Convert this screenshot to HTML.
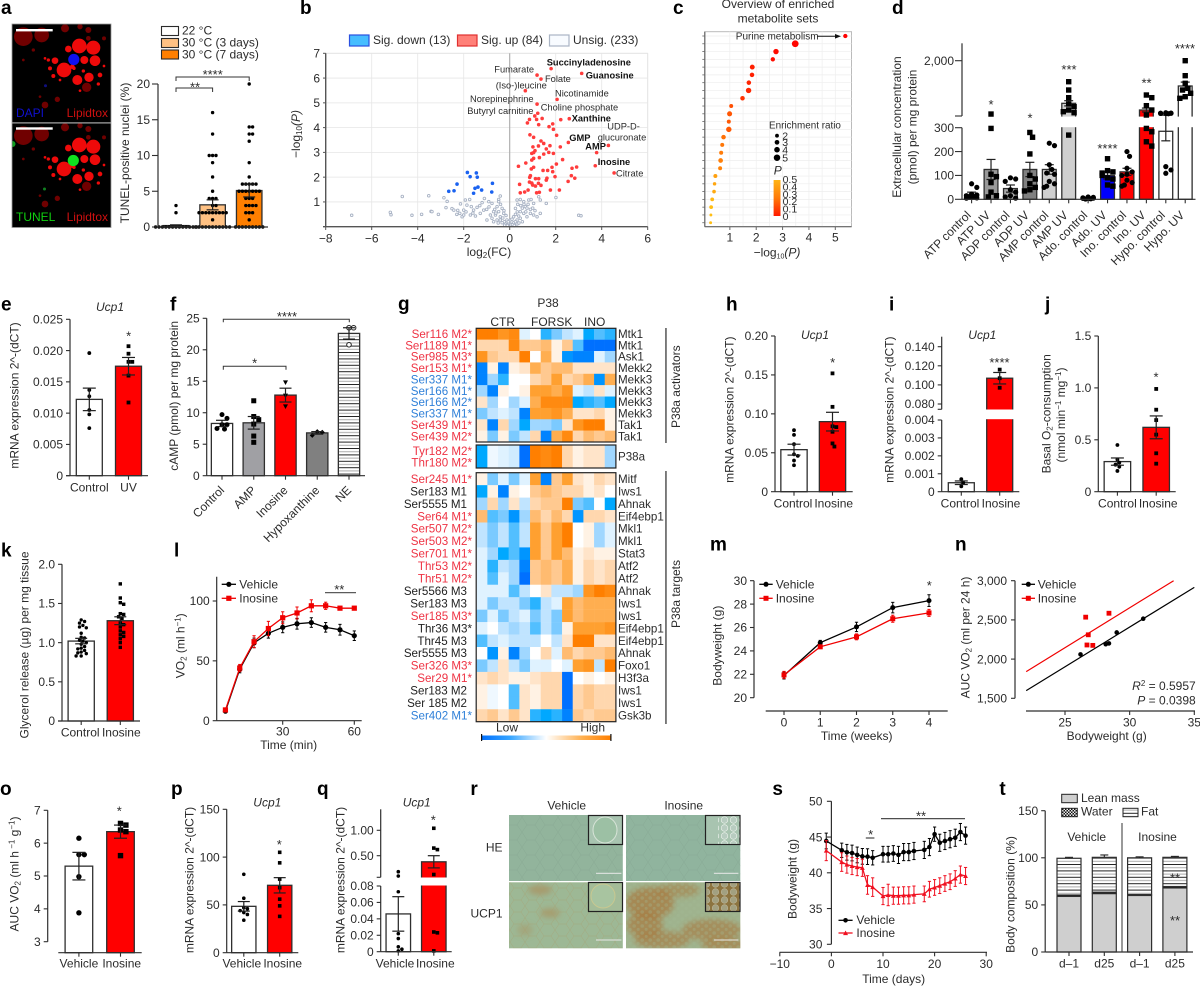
<!DOCTYPE html>
<html lang="en">
<head>
<meta charset="utf-8">
<title>Inosine figure</title>
<style>
html,body{margin:0;padding:0;background:#fff;width:1200px;height:987px;overflow:hidden}
svg{display:block}
text{font-family:"Liberation Sans",sans-serif;font-size:12px;fill:#2b2b2b}
.m{text-anchor:middle}
.e{text-anchor:end}
.lt{font-size:19px;font-weight:700;fill:#000}
.sm{font-size:9.3px}
.bd{font-size:9.3px;font-weight:700;fill:#111}
.it{font-style:italic}
.st{font-size:13px;text-anchor:middle}
</style>
</head>
<body>
<svg id="figure" xmlns="http://www.w3.org/2000/svg" width="1200" height="987" viewBox="0 0 1200 987">
<defs>
<pattern id="stripes" width="6.4" height="6.4" patternUnits="userSpaceOnUse"><rect width="6.4" height="6.4" fill="#fff"/><rect y="0" width="6.4" height="1" fill="#222"/><rect y="3.2" width="6.4" height="1" fill="#aaa"/></pattern>
<pattern id="checker" width="3" height="3" patternUnits="userSpaceOnUse"><rect width="3" height="3" fill="#111"/><rect width="1.5" height="1.5" fill="#eee"/><rect x="1.5" y="1.5" width="1.5" height="1.5" fill="#eee"/></pattern>
<pattern id="cellsPale" width="18" height="15" patternUnits="userSpaceOnUse"><path d="M0 7 L5 0 L13 0 L18 7 L13 15 L5 15 Z" fill="none" stroke="#7f9c88" stroke-width=".4" opacity=".6"/></pattern>
<pattern id="cellsBrown" width="15" height="12" patternUnits="userSpaceOnUse"><path d="M0 6 L4 0 L11 0 L15 6 L11 12 L4 12 Z" fill="none" stroke="#a89a6a" stroke-width=".5" opacity=".55"/></pattern>
<pattern id="cellHoles" width="8" height="7" patternUnits="userSpaceOnUse"><circle cx="2.2" cy="2" r="1.8" fill="#a3bb95"/><circle cx="6.2" cy="5.4" r="1.5" fill="#a3bb95"/></pattern>
<pattern id="insetCells" width="9" height="8" patternUnits="userSpaceOnUse"><circle cx="4.5" cy="4" r="3.3" fill="#b8ccc0" stroke="#eef4ee" stroke-width=".6"/></pattern>
<linearGradient id="pGradient" x1="0" y1="0" x2="0" y2="1"><stop offset="0" stop-color="#ffb414"/><stop offset=".5" stop-color="#ff7a08"/><stop offset="1" stop-color="#ff1a00"/></linearGradient>
<linearGradient id="heatGradient" x1="0" y1="0" x2="1" y2="0"><stop offset="0" stop-color="#0070ff"/><stop offset=".22" stop-color="#37a5ff"/><stop offset=".5" stop-color="#ffffff"/><stop offset=".78" stop-color="#ffb050"/><stop offset="1" stop-color="#ff7f00"/></linearGradient>
<clipPath id="clipTop"><rect x="12.5" y="24.5" width="98" height="98"/></clipPath>
<clipPath id="clipBottom"><rect x="12.5" y="123.5" width="98" height="103.5"/></clipPath>
<clipPath id="clipUcpVehicle"><rect x="509" y="882.3" width="113.8" height="66"/></clipPath>
<clipPath id="clipUcpInosine"><rect x="626" y="882.3" width="114.3" height="66"/></clipPath>
<filter id="soft" x="-30%" y="-30%" width="160%" height="160%"><feGaussianBlur stdDeviation="3"/></filter>
</defs>

<g id="panel-a">
<text class="lt" x="1" y="14">a</text>
<rect x="12" y="24" width="99" height="203.5" fill="#000" stroke="#999" stroke-width=".8"/>
<g id="micro-top" clip-path="url(#clipTop)"></g>
<g id="micro-bottom" clip-path="url(#clipBottom)"></g>
<rect x="12" y="122.3" width="99" height="1.2" fill="#aaa"/>
<rect x="16" y="29" width="36.7" height="2.4" fill="#fff"/>
<rect x="16" y="127.3" width="36.7" height="2.4" fill="#fff"/>
<text x="16" y="117" style="fill:#1010d0">DAPI</text>
<text x="108" y="117" class="e" style="fill:#d01010">Lipidtox</text>
<text x="16" y="221" style="fill:#10d010">TUNEL</text>
<text x="108" y="221" class="e" style="fill:#d01010">Lipidtox</text>
<rect x="161.5" y="26.5" width="17" height="9" fill="#fff" stroke="#2b2b2b" stroke-width="1.1"/>
<rect x="161.5" y="38.5" width="17" height="9" fill="#ffc183" stroke="#2b2b2b" stroke-width="1.1"/>
<rect x="161.5" y="50" width="17" height="9" fill="#ff7f00" stroke="#2b2b2b" stroke-width="1.1"/>
<text x="182" y="34.5">22 °C</text>
<text x="182" y="46.5">30 °C (3 days)</text>
<text x="182" y="58.5">30 °C (7 days)</text>
<text x="129" y="153" class="m" transform="rotate(-90 129 153)">TUNEL-positive nuclei (%)</text>
<text x="195" y="91.5" class="st">**</text>
<text x="212.7" y="79" class="st">****</text>
</g>

<g id="panel-b">
<text class="lt" x="300" y="14">b</text>
<rect x="349.5" y="35" width="19.5" height="11" fill="#46bdff" stroke="#2a50e0" stroke-width="1.2"/>
<rect x="457.5" y="35" width="19.5" height="11" fill="#ff8078" stroke="#e03030" stroke-width="1.2"/>
<rect x="549.5" y="35" width="19.5" height="11" fill="#f8fbff" stroke="#aab4c4" stroke-width="1.2"/>
<text x="373" y="44">Sig. down (13)</text>
<text x="481" y="44">Sig. up (84)</text>
<text x="573" y="44">Unsig. (233)</text>
<text x="300" y="134" class="m" transform="rotate(-90 300 134)">−log<tspan dy="2" font-size="8">10</tspan><tspan dy="-2" class="it">(P)</tspan></text>
<text x="489" y="256" class="m">log<tspan dy="2" font-size="8">2</tspan><tspan dy="-2">(FC)</tspan></text>
</g>

<g id="panel-c">
<text class="lt" x="673" y="14">c</text>
<text x="778" y="8" class="m">Overview of enriched</text>
<text x="778" y="22.7" class="m">metabolite sets</text>
<text x="769" y="128.3" style="font-size:9.9px">Enrichment ratio</text>
<text x="777.8" y="174.7" class="m it">P</text>
<text x="777" y="256.7" class="m">−log<tspan dy="2" font-size="7">10</tspan><tspan dy="-2" class="it">(P)</tspan></text>
</g>

<g id="panel-d">
<text class="lt" x="892" y="14">d</text>
<text x="901" y="127" class="m" transform="rotate(-90 901 127)">Extracellular concentration</text>
<text x="916.5" y="127" class="m" transform="rotate(-90 916.5 127)">(pmol) per mg protein</text>
<text x="991" y="109" class="st">*</text>
<text x="1030" y="122.5" class="st">*</text>
<text x="1069" y="74" class="st">***</text>
<text x="1107.5" y="153" class="st">****</text>
<text x="1146.5" y="87.5" class="st">**</text>
<text x="1185" y="53" class="st">****</text>
</g>

<g id="panel-e">
<text class="lt" x="1" y="310.7">e</text>
<text x="110" y="311" class="m it">Ucp1</text>
<text x="18.3" y="395.5" class="m" transform="rotate(-90 18.3 395.5)">mRNA expression 2^-(dCT)</text>
<text x="128.7" y="340.5" class="st">*</text>
</g>

<g id="panel-f">
<text class="lt" x="170" y="310.7">f</text>
<text x="178" y="395.8" class="m" transform="rotate(-90 178 395.8)">cAMP (pmol) per mg protein</text>
<text x="287" y="321" class="st">****</text>
<text x="254.7" y="367.5" class="st">*</text>
</g>

<g id="panel-g">
<text class="lt" x="398" y="310">g</text>
<text x="548" y="307" class="m">P38</text>
<text x="502.7" y="326" class="m">CTR</text>
<text x="551.7" y="326" class="m">FORSK</text>
<text x="594.7" y="326" class="m">INO</text>
<text x="680" y="386.7" class="m" transform="rotate(-90 680 386.7)">P38a activators</text>
<text x="680" y="594" class="m" transform="rotate(-90 680 594)">P38a targets</text>
<rect x="665.2" y="328" width="1.5" height="115" fill="#555"/>
<rect x="665.2" y="471" width="1.5" height="253" fill="#555"/>
<text x="507" y="731.7" class="m">Low</text>
<text x="592.7" y="731.7" class="m">High</text>
<rect x="481.7" y="735.5" width="129" height="4.5" fill="url(#heatGradient)"/>
<rect x="481" y="734" width="1.2" height="7" fill="#111"/>
<rect x="610.3" y="734" width="1.2" height="7" fill="#111"/>
</g>

<g id="panel-h">
<text class="lt" x="726" y="310.7">h</text>
<text x="815" y="339" class="m it">Ucp1</text>
<text x="733.3" y="409.7" class="m" transform="rotate(-90 733.3 409.7)">mRNA expression 2^-(dCT)</text>
<text x="832.7" y="367" class="st">*</text>
</g>

<g id="panel-i">
<text class="lt" x="889" y="310.7">i</text>
<text x="982.3" y="339" class="m it">Ucp1</text>
<text x="893.3" y="409.7" class="m" transform="rotate(-90 893.3 409.7)">mRNA expression 2^-(dCT)</text>
<text x="999.5" y="367" class="st">****</text>
</g>

<g id="panel-j">
<text class="lt" x="1045" y="310.7">j</text>
<text x="1050.7" y="413.8" class="m" transform="rotate(-90 1050.7 413.8)">Basal O<tspan dy="2" font-size="8">2</tspan><tspan dy="-2">-consumption</tspan></text>
<text x="1065" y="415" class="m" transform="rotate(-90 1065 415)">(nmol min<tspan dy="-4" font-size="8">−1</tspan><tspan dy="4"> mg</tspan><tspan dy="-4" font-size="8">−1</tspan><tspan dy="4">)</tspan></text>
<text x="1156" y="381.5" class="st">*</text>
</g>

<g id="panel-k">
<text class="lt" x="1" y="556.7">k</text>
<text x="28.3" y="645" class="m" transform="rotate(-90 28.3 645)">Glycerol release (µg) per mg tissue</text>
</g>

<g id="panel-l">
<text class="lt" x="174" y="556.7">l</text>
<text x="184.3" y="645.8" class="m" transform="rotate(-90 184.3 645.8)">VO<tspan dy="2" font-size="8">2</tspan><tspan dy="-2"> (ml h</tspan><tspan dy="-4" font-size="8">−1</tspan><tspan dy="4">)</tspan></text>
<text x="288.7" y="749" class="m">Time (min)</text>
<text x="239.3" y="588.3">Vehicle</text>
<text x="239.3" y="602.3">Inosine</text>
<rect x="325" y="592.2" width="31" height="1" fill="#333"/>
<text x="339.3" y="594" class="st">**</text>
</g>

<g id="panel-m">
<text class="lt" x="710" y="550.7">m</text>
<text x="721.7" y="645.7" class="m" transform="rotate(-90 721.7 645.7)">Bodyweight (g)</text>
<text x="856.7" y="740" class="m">Time (weeks)</text>
<text x="775.7" y="588.3">Vehicle</text>
<text x="775.7" y="602.3">Inosine</text>
<text x="929.3" y="590" class="st">*</text>
</g>

<g id="panel-n">
<text class="lt" x="955" y="550.7">n</text>
<text x="969.3" y="637.5" class="m" transform="rotate(-90 969.3 637.5)">AUC VO<tspan dy="2" font-size="8">2</tspan><tspan dy="-2"> (ml per 24 h)</tspan></text>
<text x="1106.7" y="740" class="m">Bodyweight (g)</text>
<text x="1037.7" y="588.3">Vehicle</text>
<text x="1037.7" y="602.3">Inosine</text>
<text x="1195.7" y="690" class="e"><tspan class="it">R</tspan><tspan dy="-4" font-size="8">2</tspan><tspan dy="4"> = 0.5957</tspan></text>
<text x="1195.7" y="704.3" class="e"><tspan class="it">P</tspan> = 0.0398</text>
</g>

<g id="panel-o">
<text class="lt" x="0" y="795">o</text>
<text x="18.3" y="874" class="m" transform="rotate(-90 18.3 874)">AUC VO<tspan dy="2" font-size="8">2</tspan><tspan dy="-2"> (ml h</tspan><tspan dy="-4" font-size="8"> −1</tspan><tspan dy="4"> g</tspan><tspan dy="-4" font-size="8">−1</tspan><tspan dy="4">)</tspan></text>
<text x="119.3" y="815.5" class="st">*</text>
</g>

<g id="panel-p">
<text class="lt" x="171" y="795">p</text>
<text x="267.3" y="806.7" class="m it">Ucp1</text>
<text x="193.3" y="880" class="m" transform="rotate(-90 193.3 880)">mRNA expression 2^-(dCT)</text>
<text x="279.3" y="849" class="st">*</text>
</g>

<g id="panel-q">
<text class="lt" x="317" y="795">q</text>
<text x="416.7" y="806.7" class="m it">Ucp1</text>
<text x="344.3" y="880" class="m" transform="rotate(-90 344.3 880)">mRNA expression 2^-(dCT)</text>
<text x="433.3" y="824.5" class="st">*</text>
</g>

<g id="panel-r">
<text class="lt" x="470.4" y="795">r</text>
<text x="566.7" y="809.3" class="m">Vehicle</text>
<text x="683.7" y="809.3" class="m">Inosine</text>
<text x="502.5" y="851.7" class="e">HE</text>
<text x="502.5" y="917.7" class="e">UCP1</text>
<rect x="509" y="815" width="113.8" height="66" fill="#92b49c"/>
<rect x="509" y="815" width="113.8" height="66" fill="url(#cellsPale)"/>
<rect x="626" y="815" width="114.3" height="66" fill="#90b49e"/>
<rect x="626" y="815" width="114.3" height="66" fill="url(#cellsPale)"/>
<rect x="509" y="882.3" width="113.8" height="66" fill="#9db895"/>
<rect x="626" y="882.3" width="114.3" height="66" fill="#9fb38e"/>
<g clip-path="url(#clipUcpVehicle)">
<g filter="url(#soft)">
<ellipse cx="540" cy="890" rx="12" ry="5" fill="#b08048" opacity=".5"/>
<ellipse cx="550" cy="913" rx="10" ry="5" fill="#b08048" opacity=".45"/>
<ellipse cx="525" cy="930" rx="8" ry="6" fill="#b08048" opacity=".3"/>
</g>
<rect x="509" y="882.3" width="113.8" height="66" fill="url(#cellsBrown)"/>
</g>
<g clip-path="url(#clipUcpInosine)">
<g filter="url(#soft)">
<ellipse cx="650" cy="903" rx="24" ry="16" fill="#a8763a" opacity=".7"/>
<ellipse cx="645" cy="925" rx="18" ry="13" fill="#a8763a" opacity=".65"/>
<ellipse cx="662" cy="940" rx="28" ry="9" fill="#a8763a" opacity=".6"/>
<ellipse cx="712" cy="930" rx="30" ry="11" fill="#a8763a" opacity=".6"/>
<ellipse cx="725" cy="945" rx="24" ry="7" fill="#a8763a" opacity=".6"/>
<ellipse cx="678" cy="890" rx="22" ry="7" fill="#a8763a" opacity=".5"/>
</g>
<rect x="626" y="882.3" width="114.3" height="66" fill="url(#cellHoles)" opacity=".3"/>
</g>
<rect x="588.5" y="815.5" width="34" height="29" fill="#a8c4b0" stroke="#222" stroke-width="1.2"/>
<ellipse cx="605" cy="830" rx="12" ry="13" fill="#9cc0a4" stroke="#d8e4d8" stroke-width="1"/>
<rect x="705.5" y="815.5" width="34.5" height="29" fill="#a8c4b0" stroke="#222" stroke-width="1.2"/>
<rect x="718" y="816.2" width="21.4" height="27.6" fill="url(#insetCells)"/>
<rect x="588.5" y="882.5" width="34" height="29" fill="#a4bc98" stroke="#222" stroke-width="1.2"/>
<ellipse cx="603" cy="896" rx="12" ry="12" fill="#a8c4a0" stroke="#c8c890" stroke-width="1"/>
<rect x="705.5" y="882.5" width="34.5" height="29" fill="#8c7440" stroke="#222" stroke-width="1.2"/>
<rect x="706.2" y="883.2" width="33.2" height="27.6" fill="url(#insetCells)" opacity=".5"/>
<rect x="596" y="872.8" width="25.4" height="1" fill="#e8e8e8"/>
<rect x="713.9" y="872.8" width="24.5" height="1" fill="#e8e8e8"/>
<rect x="596" y="939.5" width="25.4" height="1" fill="#e8e8e8"/>
<rect x="713.9" y="939.5" width="24.5" height="1" fill="#e8e8e8"/>
</g>

<g id="panel-s">
<text class="lt" x="772.4" y="795">s</text>
<text x="796.5" y="879" class="m" transform="rotate(-90 796.5 879)">Bodyweight (g)</text>
<text x="893.7" y="983" class="m">Time (days)</text>
<text x="856.4" y="924">Vehicle</text>
<text x="856.4" y="937">Inosine</text>
<rect x="865.8" y="837.5" width="8.6" height="1" fill="#222"/>
<rect x="881" y="818.2" width="84" height="1" fill="#222"/>
<text x="870.6" y="839" class="st">*</text>
<text x="921" y="820.5" class="st">**</text>
</g>

<g id="panel-t">
<text class="lt" x="999.4" y="795">t</text>
<text x="1014.5" y="894.5" class="m" transform="rotate(-90 1014.5 894.5)">Body composition (%)</text>
<rect x="1061.7" y="794.3" width="15.6" height="8.4" fill="#cfcfcf" stroke="#222"/>
<rect x="1061.7" y="808.3" width="15.6" height="8.4" fill="url(#checker)" stroke="#222"/>
<rect x="1123" y="808.3" width="15" height="8.4" fill="url(#stripes)" stroke="#222"/>
<text x="1081" y="802">Lean mass</text>
<text x="1081" y="815.7">Water</text>
<text x="1141" y="815.7">Fat</text>
<rect x="1121.5" y="823" width="1" height="129" fill="#333"/>
<text x="1086.7" y="841" class="m">Vehicle</text>
<text x="1157.5" y="841" class="m">Inosine</text>
</g>
</svg>

<script>
/* ---------- panel a data ---------- */
const aMeans = [0.2, 3.1, 5.1];
const aErrors = [0.1, 0.7, 0.9];
const aFills = ['#ffffff', '#ffc183', '#ff7f00'];
const aTicks = [0, 5, 10, 15, 20];
const aPoints22 = [3, 2, 0, 0, 0, 0, 0, 0, 0, 0, 0, 0, 0, 0, 0];
const aPoints3d = [16, 13, 10, 10, 10, 9, 7, 5, 4, 4, 4, 3, 3, 2, 2, 2, 2, 2, 2, 2, 2, 2, 1, 0, 0, 0, 0, 0, 0, 0, 0, 0, 0, 0];
const aPoints7d = [20, 14, 14, 13, 13, 12, 9, 7, 6, 6, 6, 6, 6, 5, 5, 5, 5, 5, 5, 5, 4, 4, 4, 3, 3, 3, 3, 2, 2, 2, 1, 0, 0, 0, 0, 0, 0, 0, 0, 0];

/* ---------- panel b data: [log2FC, -log10P] ---------- */
const bTicksX = [-8, -6, -4, -2, 0, 2, 4, 6];
const bTicksY = [1, 2, 3, 4, 5, 6, 7];
const bSigUp = [[1.8,6.38],[3.13,6.19],[1.19,6.12],[1.36,5.96],[0.68,5.49],[2.06,5.14],[1.19,4.95],[1.22,4.58],[1.09,4.47],[0.86,4.33],[1.17,4.33],[1.41,4.37],[2.22,4.32],[2.59,4.36],[0.77,4.19],[1.26,4.12],[1.87,4.15],[1.71,4.04],[1.9,3.93],[2.04,3.69],[0.88,3.71],[1.04,3.61],[1.36,3.46],[1.48,3.36],[1.75,3.27],[1.25,3.26],[1.01,3.22],[1.59,3.14],[2.2,3.22],[2.55,3.4],[4.29,3.28],[3.78,2.99],[1.7,3.0],[1.9,2.96],[1.48,2.93],[1.1,3.07],[1.04,2.99],[0.96,2.96],[1.29,2.79],[1.04,2.76],[0.96,2.69],[2.3,2.71],[0.7,2.57],[0.38,2.44],[2.03,2.53],[3.72,2.46],[1.04,2.4],[0.94,2.33],[1.84,2.4],[1.45,2.27],[1.65,2.27],[1.87,2.22],[2.71,2.36],[2.91,2.41],[4.54,2.17],[2.68,2.06],[2.83,1.96],[1.97,2.02],[0.9,2.06],[0.87,1.99],[1.12,1.94],[1.26,1.94],[1.62,1.96],[1.59,1.88],[2.54,1.83],[0.86,1.8],[0.96,1.76],[1.25,1.75],[1.36,1.67],[0.43,1.71],[1.0,1.68],[1.12,1.64],[0.8,1.48],[0.65,1.4],[0.46,1.37],[1.17,1.37],[1.29,1.39],[1.77,1.48],[2.16,1.48]];
const bSigDown = [[-1.84,2.19],[-1.45,2.17],[-1.72,2.02],[-1.41,2.0],[-2.29,1.72],[-0.75,1.75],[-1.38,1.6],[-1.51,1.55],[-1.22,1.48],[-2.65,1.43],[-2.42,1.45],[-0.78,1.4],[-1.57,1.35]];
const bUnsig = [[-6.87,.46],[-5.19,.58],[-5.16,.48],[-4.25,.46],[-3.83,.5],[-3.42,.62],[-3.38,.61],[-3.1,.5],[-4.67,1.22],[-3.52,1.25],[-2.86,1.17],[-2.72,1.02],[-2.77,.77],[-2.51,.73],[-2.43,.67],[-2.26,.66],[-2.17,.54],[-2.07,.4],[-2,.67],[-2,.47],[-2.14,.92],[-1.93,1.08],[-1.74,1.1],[-1.67,.81],[-1.86,.87],[-1.57,.67],[-1.42,.78],[-1.2,.97],[-1.1,1.14],[-.91,1.01],[-.77,.94],[-1.13,.67],[-1.28,.54],[-1.49,.43],[-1.71,.47],[-.48,1.1],[-.41,1.24],[-.48,1.01],[-.55,.81],[-.7,.61],[-.84,.47],[-.99,.27],[-.77,.34],[-.62,.47],[-.48,.61],[-.33,.74],[-.26,.54],[-.41,.4],[-.55,.27],[-.7,.2],[-.23,.2],[-.12,.27],[-.04,.13],[.03,.11],[.17,.16],[.32,.27],[.39,.43],[.46,.61],[.25,.74],[.32,1.08],[.46,1.1],[.61,1.01],[.68,.81],[.83,1.08],[.93,1.1],[1.04,.94],[1.26,1.21],[1.33,1.08],[1.59,.94],[2.01,1.18],[3,.46],[3.1,.44],[.61,.54],[.75,.4],[.9,.54],[1.04,.47],[1.19,.4],[1.33,.54],[.46,.34],[.17,.4],[.32,.11],[.03,.27],[-.19,.11],[-.33,.16],[-.41,.27],[-.1,.05],[.05,.07],[.12,.08],[-.22,.06],[.2,.05],[-.06,.2],[.1,.3],[.25,.5],[.33,.6],[-.16,.45],[-.3,.35],[-.25,.65],[-.65,.7],[-.6,.55],[.55,.75],[.62,.9],[.75,.75],[.8,.9],[1,.75],[1.1,.65],[.9,.7],[.7,.6],[-1,.7],[-.9,.8],[-1.3,.85],[-1.6,.55],[-1.9,.6],[-2.3,.5],[-.5,.15],[.4,.15],[.55,.2],[.25,.2],[-.4,.9],[.48,.85],[.35,.9]];
const bCallouts = [['Succinyladenosine',1],['Fumarate',0],['Folate',0],['Guanosine',1],['(Iso-)leucine',0],['Nicotinamide',0],['Norepinephrine',0],['Choline phosphate',0],['Butyryl carnitine',0],['Xanthine',1],['UDP-D-',0],['glucuronate',0],['GMP',1],['AMP',1],['Inosine',1],['Citrate',0]];

/* ---------- panel c data ---------- */
const cMinusLogP = [5.38,3.48,2.75,2.63,1.85,1.84,1.72,1.71,1.48,1.05,.99,.96,.96,.76,.71,.67,.65,.63,.45,.42,.4,.33,.29,.28,.27];
const cEnrichment = [2.6,5.3,3.8,2.6,3.2,2.8,2.8,3.8,2.8,2.2,3.4,2.2,3.8,2.8,2.2,2.2,3,2.2,2.2,1.6,1.8,2,2,1,1];
const cTicks = [1, 2, 3, 4, 5];
const cSizeLegend = [2, 3, 4, 5];
const cPLegend = ['0.5', '0.4', '0.3', '0.2', '0.1', '0'];

/* ---------- panel d data ---------- */
const dLabels = ['ATP control','ATP UV','ADP control','ADP UV','AMP control','AMP UV','Ado. control','Ado. UV','Ino. control','Ino. UV','Hypo. control','Hypo. UV'];
const dMeans = [20, 125, 45, 125, 125, 690, 3, 100, 115, 484, 285, 1222];
const dErrors = [10, 42, 15, 30, 20, 80, 1, 15, 15, 60, 40, 120];
const dFills = ['#d9d9d9','#999999','#aaaaaa','#808080','#cfcfcf','#cfcfcf','#0000ff','#0000ff','#ff0000','#ff0000','#ffffff','#ffffff'];
const dPoints = [
 [65,50,22,18,15,12,10,8,6,5],
 [360,297,105,95,70,30,15,10],
 [90,85,75,40,30,15,10,5],
 [280,260,190,100,85,65,50,40,35],
 [235,225,145,125,110,105,75,65,55,50],
 [1354,1099,863,669,586,484,432,401,269],
 [10,8,6,5,4,3,2,1],
 [170,120,115,110,100,90,85,60,55],
 [200,180,130,115,105,100,80,70,60,55],
 [945,863,617,484,330,297,241,223,283],
 [400,390,385,383,380,375,370,137,123,109],
 [2000,1539,1305,1151,1099,998,893,844]
];
const dTicksLow = [0, 100, 200, 300];

/* ---------- panel e data ---------- */
const eLabels = ['Control', 'UV'];
const eMeans = [0.0122, 0.0175];
const eErrors = [0.0018, 0.0014];
const eControlPoints = [0.0196, 0.0137, 0.0127, 0.0105, 0.0098, 0.0076];
const eUvPoints = [0.0207, 0.0195, 0.0182, 0.0182, 0.016, 0.0117];
const eTicks = [0, 0.005, 0.01, 0.015, 0.02, 0.025];
const eTickLabels = ['0', '0.005', '0.010', '0.015', '0.020', '0.025'];

/* ---------- panel f data ---------- */
const fLabels = ['Control', 'AMP', 'Inosine', 'Hypoxanthine', 'NE'];
const fMeans = [8.3, 8.4, 12.8, 6.8, 22.6];
const fErrors = [0.5, 1, 1.1, 0.2, 0.9];
const fFills = ['#ffffff', '#a0a0a4', '#ff0000', '#808080', 'url(#stripes)'];
const fPoints = [[9.7,9.1,8.1,8.1,7.4,7.5],[11.9,9.4,8.9,8.2,6.3,5.3],[14.8,12.7,11],[7,6.9,6.4],[23.5,23.5,20.8]];
const fShapes = ['c', 's', 'v', 'd', 'o'];
const fTicks = [0, 5, 10, 15, 20, 25];

/* ---------- panel g data (cell values x10, -10 low .. 10 high) ---------- */
const gActivatorRows = [[10,10,8,9,-1,0,-6,-4,-2,-1,-7,-5,-6],[3,3,3,9,4,4,5,1,4,-5,-10,-10,-10],[8,4,3,3,10,0,6,1,-8,-9,-9,-1,-3],[-9,1,-9,1,2,6,4,5,5,2,2,2,2],[-9,-3,-6,0,0,3,4,7,3,4,6,-8,6],[-3,-9,1,0,1,7,7,6,8,-1,-2,2,-1],[2,-3,0,-3,-1,6,9,9,9,-7,-6,-5,-7],[-4,-2,-1,-2,-9,7,7,8,6,2,2,3,1],[2,-9,3,-3,-7,-3,-3,-4,2,8,10,10,1],[1,-4,1,-4,-2,3,-9,6,9,3,5,4,5]];
const gActivatorSites = ['Ser116 M2*','Ser1189 M1*','Ser985 M3*','Ser153 M1*','Ser337 M1*','Ser166 M1*','Ser166 M2*','Ser337 M1*','Ser439 M1*','Ser439 M2*'];
const gActivatorTones = ['r','r','r','r','b','b','b','b','r','r'];
const gActivatorGenes = ['Mtk1','Mtk1','Ask1','Mekk2','Mekk3','Mekk3','Mekk3','Mekk3','Tak1','Tak1'];
const gP38Rows = [[-7,-.5,-1,-1.5,-10,10,9,10,3,1,2,2,-3],[-7,-.5,-1,-1.5,-10,10,9,10,3,1,2,2,-3]];
const gP38Sites = ['Tyr182 M2*','Thr180 M2*'];
const gP38Tones = ['r','r'];
const gTargetRows = [[1,-4,-1,-4,-1,7,-9,4,7,2,1,3,2],[-7,1,-9,1,0,4,5,4,3,3,1,2,0],[-3,3,-3,2,-2,3,4,4,10,-4,-5,0,-7],[5,-5,-4,-8,-3,5,3,5,3,-8,3,3,2],[-2,-4,-2,-5,-2,7,4,7,10,0,1,-3,-1],[-2,-4,-2,-5,-2,7,4,7,10,0,1,-3,-1],[-1,-3,-7,-5,-8,7,4,7,5,1,2,1,1],[-1,-6,-2,-3,-9,4,5,4,6,1,3,2,3],[-1,-5,-1,-3,-10,4,5,4,6,1,3,2,3],[-1,-1,-1,-5,-2,0,2,-2,-2,-3,8,10,9],[-1,-4,-2,-2,-4,-6,-2,-1,7,5,6,6,6],[-4,-1,-4,-2,-1,-4,-2,-4,7,5,6,6,6],[-1,0,-2,-3,-2,-5,-2,-4,1,7,7,7,8],[-5,-2,-1,-2,-2,-2,0,-2,2,10,10,2,2],[0,-8,1,-9,-3,0,3,-1,5,3,4,4,5],[-4,-2,2,-2,-4,-1,-1,0,-1,7,8,-2,10],[2,3,2,1,1,2,3,3,-10,0,1,0,1],[1,-.5,0,-5,2,1,3,3,-10,3,4,3,3],[1,-.5,0,-5,2,1,3,3,-10,3,4,3,3],[3,4,2,4,2,-6,-7,-6,-9,4,3,4,4]];
const gTargetSites = ['Ser245 M1*','Ser183 M1','Ser5555 M1','Ser64 M1*','Ser507 M2*','Ser503 M2*','Ser701 M1*','Thr53 M2*','Thr51 M2*','Ser5566 M3','Ser183 M3','Ser185 M3*','Thr36 M3*','Thr45 M3','Ser5555 M3','Ser326 M3*','Ser29 M1*','Ser183 M2','Ser 185 M2','Ser402 M1*'];
const gTargetTones = ['r','k','k','r','r','r','r','r','r','k','k','r','k','k','k','r','r','k','k','b'];
const gTargetGenes = ['Mitf','Iws1','Ahnak','Eif4ebp1','Mkl1','Mkl1','Stat3','Atf2','Atf2','Ahnak','Iws1','Iws1','Eif4ebp1','Eif4ebp1','Ahnak','Foxo1','H3f3a','Iws1','Iws1','Gsk3b'];

/* ---------- panels h, i, j data ---------- */
const pairLabels = ['Control', 'Inosine'];
const hMeans = [0.054, 0.09];
const hErrors = [0.007, 0.012];
const hControl = [0.079, 0.073, 0.061, 0.048, 0.046, 0.04, 0.034];
const hInosine = [0.152, 0.109, 0.084, 0.083, 0.077, 0.062, 0.058];
const hTicks = [0, 0.05, 0.1, 0.15, 0.2];
const hTickLabels = ['0', '0.05', '0.10', '0.15', '0.20'];
const iMeans = [0.0005, 0.107];
const iErrors = [0.0001, 0.006];
const iControl = [0.0007, 0.0005, 0.0003];
const iInosine = [0.116, 0.107, 0.097];
const iTicksLow = [0, 0.001, 0.002, 0.003, 0.004];
const iTickLabelsLow = ['0', '0.001', '0.002', '0.003', '0.004'];
const iTicksHigh = [0.08, 0.1, 0.12, 0.14];
const iTickLabelsHigh = ['0.080', '0.100', '0.120', '0.140'];
const jMeans = [0.29, 0.62];
const jErrors = [0.035, 0.11];
const jControl = [0.45, 0.31, 0.28, 0.26, 0.24, 0.2];
const jInosine = [0.99, 0.79, 0.69, 0.55, 0.37, 0.27];
const jTicks = [0, 0.5, 1, 1.5];
const jTickLabels = ['0', '0.5', '1.0', '1.5'];

/* ---------- panel k data ---------- */
const kMeans = [1.02, 1.28];
const kErrors = [0.035, 0.05];
const kControl = [1.29,1.27,1.25,1.22,1.2,1.19,1.12,1.07,1.06,1.03,1.02,1,.98,.95,.93,.92,.9,.88,.87,.86,.83,.83];
const kInosine = [1.75,1.57,1.51,1.49,1.37,1.36,1.33,1.31,1.25,1.23,1.2,1.15,1.13,1.1,1.08,1.05,1,.94];
const kTicks = [0, 0.5, 1, 1.5, 2];
const kTickLabels = ['0', '0.5', '1.0', '1.5', '2.0'];

/* ---------- panel l data ---------- */
const lTime = [6, 12, 18, 24, 30, 36, 42, 48, 54, 60];
const lVehicle = [8, 43, 65, 73, 78, 81, 82, 78, 76, 71];
const lVehicleErr = [1, 3, 4, 4, 4.5, 4.5, 4, 4, 4.5, 4];
const lInosine = [9, 44, 66, 77, 86, 90, 96, 96, 94, 94];
const lInosineErr = [1, 3, 5, 6, 5, 5, 5, 3, 1.5, 1.5];
const lTicksY = [0, 50, 100];
const lTicksX = [30, 60];

/* ---------- panel m data ---------- */
const mWeeks = [0, 1, 2, 3, 4];
const mVehicle = [21.9, 24.7, 26.05, 27.7, 28.3];
const mVehicleErr = [0.3, 0.2, 0.4, 0.45, 0.5];
const mInosine = [21.95, 24.35, 25.2, 26.75, 27.25];
const mInosineErr = [0.3, 0.15, 0.25, 0.3, 0.3];
const mTicksY = [20, 22, 24, 26, 28, 30];

/* ---------- panel n data ---------- */
const nVehicleWeight = [26.2, 28.15, 28.4, 29, 31.05];
const nVehicleAuc = [2060, 2190, 2200, 2340, 2515];
const nInosineWeight = [26.6, 28.4, 26.8, 26.7, 27.15];
const nInosineAuc = [2535, 2585, 2310, 2180, 2175];
const nVehicleFit = [[22, 1598], [35, 2915]];
const nInosineFit = [[22, 1840], [33.4, 3000]];
const nTicksY = [1500, 2000, 2500, 3000];
const nTickLabelsY = ['1,500', '2,000', '2,500', '3,000'];
const nTicksX = [25, 30, 35];

/* ---------- panels o, p, q data ---------- */
const vehicleInosine = ['Vehicle', 'Inosine'];
const oMeans = [5.3, 6.35];
const oErrors = [0.42, 0.2];
const oVehicle = [6.15, 5.65, 5.65, 4.98, 3.88];
const oInosine = [6.6, 6.55, 6.4, 6.35, 5.62];
const oTicks = [3, 4, 5, 6, 7];
const pMeans = [48.5, 70.5];
const pErrors = [5, 8];
const pVehicle = [82, 57, 47, 46, 44, 42, 40, 34];
const pInosine = [105, 94, 77, 68, 56, 49, 38];
const pTicks = [0, 50, 100, 150];
const qMeans = [0.046, 0.38];
const qErrors = [0.021, 0.12];
const qVehicle = [0.185, 0.1, 0.073, 0.022, 0.016, 0.006, 0.003, 0.001];
const qInosine = [1.04, 0.65, 0.62, 0.13, 0.024, 0.023, 0.001];
const qTicksLow = [0, 0.02, 0.04, 0.06, 0.08];
const qTickLabelsLow = ['0', '0.02', '0.04', '0.06', '0.08'];
const qTicksHigh = [0.5, 1];
const qTickLabelsHigh = ['0.50', '1.00'];

/* ---------- panel s data ---------- */
const sDays = [-1, 2, 3, 4, 5, 6, 7, 8, 10, 11, 12, 13, 14, 15, 16, 18, 19, 20, 21, 22, 23, 24, 25, 26];
const sVehicle = [44.45,43.15,42.87,42.77,42.5,42.3,42.26,42.1,42.6,42.6,42.7,42.5,42.9,42.9,43.05,43.2,43.6,45.4,44.2,44.45,44.7,44.9,45.7,45.2];
const sVehicleErr = [1.1,1,1.1,1.1,1.1,1.1,1.1,1,1.1,1.1,1.1,1.2,1.2,1.2,1.2,1.2,1.2,1,1.2,1.2,1.2,1.2,1.2,1.2];
const sInosine = [43.1,41.5,41.15,40.95,40.8,40.7,38.3,38,36.75,36.9,36.8,36.8,36.85,36.85,36.95,37.05,37.7,37.95,38.2,38.5,38.75,39.2,39.75,39.55];
const sInosineErr = [1.4,1.3,1.2,1.2,1.2,1.2,1.3,1.3,1.2,1.5,1.2,1.2,1.2,1.2,1.2,1.1,1.1,1.1,1.1,1.1,1.1,1.1,1.2,1.2];
const sTicksY = [30, 35, 40, 45, 50];
const sTicksX = [-10, 0, 10, 20, 30];
const sTickLabelsX = ['−10', '0', '10', '20', '30'];

/* ---------- panel t data ---------- */
const tLabels = ['d–1', 'd25', 'd–1', 'd25'];
const tLean = [59, 62, 60, 68];
const tWater = [1.5, 1.5, 1, 1.5];
const tFat = [39, 37, 39, 31];
const tTopErr = [1, 2.5, 1, 1];
const tTicks = [0, 50, 100, 150];

/* ---------- micrograph droplets (x, y, radius) ---------- */
const brightDroplets = [[238,138,22],[280,143,21],[192,210,22],[232,240,15],[285,182,16],[253,180,12],[267,232,14],[165,182,10],[205,147,10],[145,180,5],[150,205,6],[160,228,6],[180,240,4],[222,205,5],[300,225,7],[312,198,4],[250,213,5],[295,252,5],[240,272,4],[217,200,7],[135,175,4]];
const dimDroplets = [[70,110,28],[125,105,22],[195,85,12],[265,90,9],[265,115,7],[312,115,6],[240,80,8],[135,315,10],[172,298,8],[100,150,5],[260,262,14],[120,290,4],[70,180,4]];

/* ---------- primitives ---------- */
const NS = 'http://www.w3.org/2000/svg';
let cur = null;
function enterRaw(id) { cur = document.getElementById(id); }
function enter(id) {
  const panel = document.getElementById(id);
  const marks = document.createElementNS(NS, 'g');
  
  
  panel.insertBefore(marks, panel.firstChild);
  cur = marks;
}
function make(tag, attrs) {
  const node = document.createElementNS(NS, tag);
  for (const k in attrs) node.setAttribute(k, attrs[k]);
  cur.appendChild(node);
  return node;
}
function linear(d0, d1, r0, r1) { return v => r0 + (v - d0) * (r1 - r0) / (d1 - d0); }
function broken(lo, hi, brk) { return v => v <= brk ? lo(v) : hi(v); }
function drawLine(x1, y1, x2, y2, stroke, width, name) {
  const el = make('line', {x1, y1, x2, y2, stroke, 'stroke-width': width});
  
  
  return el;
}
function drawRect(x, y, w, h, fill, stroke, sw, name) {
  const el = make('rect', {x, y, width: w, height: h, fill, stroke: stroke || 'none', 'stroke-width': sw || 0});
  
  
  return el;
}
function drawCircle(x, y, r, fill, stroke, sw, name) {
  const el = make('circle', {cx: x, cy: y, r, fill, stroke: stroke || 'none', 'stroke-width': sw || 0});
  
  
  return el;
}
function drawPoly(points, fill, name) {
  const el = make('polygon', {points: points.map(p => p.join(',')).join(' '), fill});
  
  
  return el;
}
function drawPath(d, stroke, width, name) {
  const el = make('path', {d, fill: 'none', stroke, 'stroke-width': width});
  
  
  return el;
}
function drawText(x, y, str, anchor, name, opts) {
  opts = opts || {};
  const attrs = {x, y, 'text-anchor': anchor};
  if (opts.rotate) attrs.transform = 'rotate(' + opts.rotate + ' ' + x + ' ' + y + ')';
  const el = make('text', attrs);
  if (opts.fill) el.style.fill = opts.fill;
  if (opts.size) el.style.fontSize = opts.size + 'px';
  if (opts.bold) el.style.fontWeight = '700';
  el.textContent = str;
  
  
  return el;
}
function drawMarker(kind, x, y, s, fill, name) {
  if (kind === 'c') return drawCircle(x, y, s, fill, 'none', 0, name);
  if (kind === 'o') return drawCircle(x, y, s, '#fff', '#222', 1, name);
  if (kind === 's') return drawRect(x - s, y - s, 2 * s, 2 * s, fill, 'none', 0, name);
  if (kind === 't') return drawPoly([[x - s, y + s * .85], [x + s, y + s * .85], [x, y - s]], fill, name);
  if (kind === 'v') return drawPoly([[x - s, y - s * .85], [x + s, y - s * .85], [x, y + s]], fill, name);
  return drawPoly([[x - s, y], [x, y - s], [x + s, y], [x, y + s]], fill, name);
}

/* ---------- axis functions ---------- */
const INK = '#2f2f2f';
function yAxis(x, scale, ticks, labels, top, bottom, name, opts) {
  opts = opts || {};
  const len = opts.len || 4;
  const gap = opts.gap || 7;
  drawLine(x, top, x, bottom, INK, 1.2, name + '-line');
  ticks.forEach((t, i) => {
    drawLine(x - len, scale(t), x, scale(t), INK, 1.1, name + '-tick');
    if (labels[i] !== '') drawText(x - gap, scale(t) + 4.2, labels[i], 'end', name + '-tick-label');
  });
}
function xAxis(y, x0, x1, positions, labels, baseline, name, opts) {
  opts = opts || {};
  drawLine(x0, y, x1, y, INK, 1.2, name + '-line');
  positions.forEach((p, i) => {
    drawLine(p, y, p, y + 4, INK, 1.1, name + '-tick');
    if (labels && labels[i] !== undefined) {
      if (opts.rotate) drawText(p + opts.dx, baseline, labels[i], 'end', name + '-tick-label', {rotate: opts.rotate});
      else drawText(p + (opts.spread ? opts.spread[i] : 0), baseline, labels[i], 'middle', name + '-tick-label');
    }
  });
}
function swarm(values, y, cx, r, limit) {
  const placed = [];
  const maxK = limit === undefined ? 60 : limit;
  values.slice().sort((a, b) => b - a).forEach((v, idx) => {
    const py = y(v);
    const offset = k => (k % 2 ? 1 : -1) * Math.ceil(k / 2) * r;
    let found = false;
    for (let k = 0; k < maxK; k++) {
      const px = cx + offset(k);
      if (placed.every(p => Math.hypot(p.x - px, p.y - py) >= r * 1.9)) {
        placed.push({x: px, y: py});
        found = true;
        break;
      }
    }
    if (!found) placed.push({x: cx + offset(idx % maxK), y: py});
  });
  return placed;
}
function drawPoints(values, y, cx, kind, r, fill, name, limit) {
  swarm(values, y, cx, r, limit).forEach(p => drawMarker(kind, p.x, p.y, r, fill, name));
}
function errorBar(cx, y, mean, err, cap, name, color) {
  const c = color || '#1f1f1f';
  drawLine(cx, y(mean - err), cx, y(mean + err), c, 1.2, name + '-stem');
  drawLine(cx - cap, y(mean + err), cx + cap, y(mean + err), c, 1.2, name + '-cap');
  drawLine(cx - cap, y(mean - err), cx + cap, y(mean - err), c, 1.2, name + '-cap');
}
function bars(means, fills, center, width, y, base, name) {
  means.forEach((v, i) => {
    drawRect(center(i) - width / 2, y(v), width, base - y(v), fills[i], INK, 1.3, name + '-bar-' + i);
  });
}
function bracket(x0, x1, y, drop, name) {
  drawPath('M' + x0 + ' ' + (y + drop) + 'V' + y + 'H' + x1 + 'V' + (y + drop), '#333', 1, name);
}
function series(xs, ys, errs, x, y, color, kind, size, name) {
  drawPath(xs.map((d, i) => (i ? 'L' : 'M') + x(d) + ' ' + y(ys[i])).join(''), color, 1.3, name + '-line');
  xs.forEach((d, i) => {
    const px = x(d);
    drawLine(px, y(ys[i] - errs[i]), px, y(ys[i] + errs[i]), color, 1, name + '-error');
    drawLine(px - 1.6, y(ys[i] + errs[i]), px + 1.6, y(ys[i] + errs[i]), color, 1, name + '-error-cap');
    drawLine(px - 1.6, y(ys[i] - errs[i]), px + 1.6, y(ys[i] - errs[i]), color, 1, name + '-error-cap');
    drawMarker(kind, px, y(ys[i]), size, color, name + '-point');
  });
}
function legendSample(x0, x1, y, color, kind, size, name) {
  drawLine(x0, y, x1, y, color, 1.3, name + '-sample-line');
  drawMarker(kind, (x0 + x1) / 2, y, size, color, name + '-sample-marker');
}

/* ---------- panel a ---------- */
enterRaw('micro-top');
dimDroplets.forEach(d => drawCircle(d[0] / 3, d[1] / 3, d[2] / 3, '#700000', 'none', 0, 'dim-droplet'));
brightDroplets.forEach(d => drawCircle(d[0] / 3, d[1] / 3, d[2] / 3, '#ee0a0a', 'none', 0, 'lipid-droplet'));
drawCircle(73.8, 59.5, 5.6, '#1010f0', 'none', 0, 'dapi-nucleus');
drawCircle(45.5, 85.7, 1.5, '#101080', 'none', 0, 'dapi-small-nucleus');
enterRaw('micro-bottom');
dimDroplets.forEach(d => drawCircle(d[0] / 3, d[1] / 3 + 99, d[2] / 3, '#700000', 'none', 0, 'dim-droplet'));
brightDroplets.forEach(d => drawCircle(d[0] / 3, d[1] / 3 + 99, d[2] / 3, '#ee0a0a', 'none', 0, 'lipid-droplet'));
drawCircle(73.3, 160.5, 5.6, '#10e020', 'none', 0, 'tunel-nucleus');
drawCircle(44.5, 189, 1.5, '#108020', 'none', 0, 'tunel-small-nucleus');
drawCircle(12.5, 144, 3, '#10a020', 'none', 0, 'tunel-edge-signal');

enter('panel-a');
(function () {
  const y = linear(0, 20, 227, 84);
  const center = i => 176 + i * 36.6;
  bars(aMeans, aFills, center, 25.5, y, 227, 'tunel');
  [aPoints22, aPoints3d, aPoints7d].forEach((pts, i) => drawPoints(pts, y, center(i), 'c', 1.7, '#000', 'tunel-point'));
  aMeans.forEach((m, i) => errorBar(center(i), y, m, aErrors[i], 6, 'tunel-error'));
  yAxis(158, y, aTicks, aTicks.map(String), 84, 227, 'y-axis-a', {len: 6, gap: 8});
  xAxis(227, 158, 268, [], null, 0, 'x-axis-a');
  bracket(center(0), center(1), 88, 4, 'bracket-a-3d');
  bracket(center(0), center(2), 77, 4, 'bracket-a-7d');
})();

/* ---------- panel b ---------- */
enter('panel-b');
(function () {
  const x = linear(-8, 6, 325.7, 647.7);
  const y = linear(0, 7, 226.7, 53.3);
  drawRect(325.7, 53.3, 322, 173.4, '#fff', '#d8d8d8', .8, 'volcano-plot-area');
  bTicksY.forEach(t => drawLine(325.7, y(t), 647.7, y(t), '#e6e6e6', .8, 'grid-horizontal'));
  bTicksX.forEach(t => drawLine(x(t), 53.3, x(t), 226.7, t === 0 ? '#aaaaaa' : '#e6e6e6', t === 0 ? 1.1 : .8, 'grid-vertical'));
  bUnsig.forEach(p => drawCircle(x(p[0]), y(p[1]), 1.3, '#fbfcff', '#a9b3c4', .9, 'unsig-point'));
  bSigDown.forEach(p => drawCircle(x(p[0]), y(p[1]), 1.8, '#1a62f0', 'none', 0, 'sig-down-point'));
  bSigUp.forEach(p => drawCircle(x(p[0]), y(p[1]), 1.8, '#ff3c3c', 'none', 0, 'sig-up-point'));
  drawLine(325.7, 53.3, 325.7, 227, '#555', 1.4, 'y-axis-b-line');
  drawLine(323, 226.7, 647.7, 226.7, '#555', 1.4, 'x-axis-b-line');
  bTicksY.forEach(t => {
    drawLine(323, y(t), 325.7, y(t), '#555', 1, 'y-axis-b-tick');
    drawText(320, y(t) + 4.2, String(t), 'end', 'y-axis-b-tick-label');
  });
  bTicksX.forEach(t => {
    drawLine(x(t), 226.7, x(t), 230, '#555', 1, 'x-axis-b-tick');
    drawText(x(t), 242.3, (t < 0 ? '−' : '') + Math.abs(t), 'middle', 'x-axis-b-tick-label');
  });
  const spots = [[546.7,65.7],[494.3,72.3],[545,82],[585.7,78.7],[495.7,88.7],[555,96.3],[470,102],[540.7,110.7],[467.3,114],[571.7,121.3],[607.3,129.3],[597.7,140.7],[569.3,141],[585.3,149.7],[597.7,165],[616,176.7]];
  bCallouts.forEach((c, i) => drawText(spots[i][0], spots[i][1], c[0], 'start', 'metabolite-label', c[1] ? {size: 9.3, bold: true, fill: '#111'} : {size: 9.3}));
})();

/* ---------- panel c ---------- */
enter('panel-c');
(function () {
  const x = linear(0, 5, 703.5, 835.3);
  const rowY = i => 36 + i * 7.78;
  const radius = e => 1 + 0.45 * e;
  const heat = mlp => {
    const t = Math.min(Math.pow(10, -mlp) / 0.5, 1);
    return 'rgb(255,' + Math.round(190 * Math.sqrt(t)) + ',' + Math.round(20 * t) + ')';
  };
  drawRect(704.8, 31.7, 146.7, 195, '#fff', '#bbbbbb', 1, 'enrichment-plot-area');
  cMinusLogP.forEach((v, i) => drawLine(704.8, rowY(i), 851.5, rowY(i), '#eeeeee', .7, 'grid-horizontal'));
  [1, 1.5, 2, 2.5, 3, 3.5, 4, 4.5, 5].forEach(t => drawLine(x(t), 31.7, x(t), 226.7, '#eeeeee', .7, 'grid-vertical'));
  drawLine(704.8, 31.7, 704.8, 226.7, '#666', 1.2, 'y-axis-c-line');
  drawLine(704.8, 226.7, 851.5, 226.7, '#666', 1.2, 'x-axis-c-line');
  cMinusLogP.forEach((v, i) => {
    drawLine(702.3, rowY(i), 704.8, rowY(i), '#666', .8, 'y-axis-c-tick');
    drawCircle(x(v), rowY(i), radius(cEnrichment[i]), heat(v), 'none', 0, 'metabolite-set-point');
  });
  cTicks.forEach(t => {
    drawLine(x(t), 226.7, x(t), 230, '#666', 1, 'x-axis-c-tick');
    drawText(x(t), 241.7, String(t), 'middle', 'x-axis-c-tick-label');
  });
  drawText(735.8, 39.3, 'Purine metabolism', 'start', 'purine-metabolism-label', {size: 10});
  drawLine(817.4, 36.3, 836, 36.3, '#111', 1, 'purine-arrow-shaft');
  drawPoly([[841, 36.3], [835, 34], [835, 38.6]], '#111', 'purine-arrow-head');
  const legendY = [135.7, 142.3, 149.7, 157.7];
  cSizeLegend.forEach((e, i) => {
    drawCircle(777, legendY[i], radius(e), '#000', 'none', 0, 'size-legend-dot');
    drawText(782.2, legendY[i] + 3.8, String(e), 'start', 'size-legend-label', {size: 10.5});
  });
  drawRect(773.6, 180, 6.9, 36, 'url(#pGradient)', 'none', 0, 'p-colorbar');
  cPLegend.forEach((s, i) => drawText(782.6, 179.3 + i * 7.35 + 3.8, s, 'start', 'p-colorbar-label', {size: 10.5}));
})();

/* ---------- panel d ---------- */
enter('panel-d');
(function () {
  const lo = linear(0, 300, 199.3, 127.7);
  const hi = linear(300, 2000, 116, 60.7);
  const y = broken(lo, hi, 300);
  const center = i => 971.6 + i * 19.42;
  bars(dMeans, dFills, center, 13.8, y, 199.3, 'extracellular');
  drawRect(962.6, 116.6, 235, 10.6, '#fff', 'none', 0, 'axis-break-gap');
  dMeans.forEach((m, i) => errorBar(center(i), y, m, dErrors[i], 4.5, 'extracellular-error'));
  dPoints.forEach((pts, i) => drawPoints(pts, y, center(i), i % 2 ? 's' : 'c', i % 2 ? 2.7 : 2.6, '#000', 'extracellular-point', 5));
  yAxis(962, lo, dTicksLow, dTicksLow.map(String), 127.7, 199.3, 'y-axis-d-lower', {len: 7, gap: 8});
  yAxis(962, hi, [300, 2000], ['', '2,000'], 43.3, 116, 'y-axis-d-upper', {len: 7, gap: 8});
  xAxis(199.3, 962, 1195.5, dLabels.map((l, i) => center(i)), dLabels, 216, 'x-axis-d', {rotate: -45, dx: 0});
})();

/* ---------- panel e ---------- */
enter('panel-e');
(function () {
  const y = linear(0, 0.025, 475.7, 319.3);
  const center = i => 89.3 + i * 39.2;
  bars(eMeans, ['#fff', '#ff0000'], center, 26, y, 475.7, 'ucp1-e');
  drawPoints(eControlPoints, y, center(0), 'c', 1.9, '#000', 'ucp1-e-point');
  drawPoints(eUvPoints, y, center(1), 's', 1.9, '#000', 'ucp1-e-point');
  eMeans.forEach((m, i) => errorBar(center(i), y, m, eErrors[i], 6.5, 'ucp1-e-error'));
  yAxis(70, y, eTicks, eTickLabels, 319.3, 475.7, 'y-axis-e');
  xAxis(475.7, 66, 148, [center(0), center(1)], eLabels, 491.7, 'x-axis-e');
})();

/* ---------- panel f ---------- */
enter('panel-f');
(function () {
  const y = linear(0, 25, 475.7, 318.3);
  const center = i => 222 + i * 31.75;
  bars(fMeans, fFills, center, 21.3, y, 475.7, 'camp');
  fPoints.forEach((pts, i) => drawPoints(pts, y, center(i), fShapes[i], fShapes[i] === 'o' ? 2.3 : 2.5, '#000', 'camp-point'));
  fMeans.forEach((m, i) => errorBar(center(i), y, m, fErrors[i], 6, 'camp-error'));
  yAxis(206.7, y, fTicks, fTicks.map(String), 318.3, 475.7, 'y-axis-f');
  xAxis(475.7, 206.7, 365, fLabels.map((l, i) => center(i)), fLabels, 491, 'x-axis-f', {rotate: -45, dx: 3});
  bracket(223.3, 349.3, 319.3, 3, 'bracket-f-ne');
  bracket(223.3, 286, 366.3, 3.5, 'bracket-f-inosine');
})();

/* ---------- panel g ---------- */
enter('panel-g');
(function () {
  const stops = [[-1,0,112,255],[-.7,0,168,255],[-.35,144,208,255],[0,255,255,255],[.35,255,208,160],[.7,255,160,48],[1,255,127,0]];
  const tones = {r: '#ee3344', b: '#2f80d8', k: '#222222'};
  const color = v => {
    for (let i = 1; i < stops.length; i++) {
      if (v <= stops[i][0]) {
        const a = stops[i - 1], b = stops[i], t = (v - a[0]) / (b[0] - a[0]);
        return 'rgb(' + [1, 2, 3].map(k => Math.round(a[k] + (b[k] - a[k]) * t)).join(',') + ')';
      }
    }
    return 'rgb(255,127,0)';
  };
  const colX = j => 476.7 + j * 10.67;
  function group(rows, sites, rowTones, genes, top, rowH, name) {
    rows.forEach((row, i) => {
      row.forEach((v, j) => drawRect(colX(j), top + i * rowH, 10.9, rowH + .2, color(v / 10), 'none', 0, name + '-cell'));
      drawText(sites[i].endsWith('*') ? 472 : 467, top + (i + .5) * rowH + 4, sites[i], 'end', name + '-site-label', {fill: tones[rowTones[i]], size: 11.6});
      if (genes) drawText(618, top + (i + .5) * rowH + 4, genes[i], 'start', name + '-gene-label', {size: 11.6});
    });
    drawRect(476.2, top, 139.7, rows.length * rowH, 'none', '#222', 1.2, name + '-border');
  }
  group(gActivatorRows, gActivatorSites, gActivatorTones, gActivatorGenes, 328.3, 11.37, 'activators');
  group(gP38Rows, gP38Sites, gP38Tones, null, 445, 11.5, 'p38a');
  drawText(618, 460.5, 'P38a', 'start', 'p38a-gene-label', {size: 11.6});
  group(gTargetRows, gTargetSites, gTargetTones, gTargetGenes, 472.7, 12.45, 'targets');
})();

/* ---------- panel h ---------- */
enter('panel-h');
(function () {
  const y = linear(0, 0.2, 491.7, 336);
  const center = i => 794 + i * 38.5;
  bars(hMeans, ['#fff', '#ff0000'], center, 26.3, y, 491.7, 'ucp1-h');
  drawPoints(hControl, y, center(0), 'c', 1.9, '#000', 'ucp1-h-point');
  drawPoints(hInosine, y, center(1), 's', 1.9, '#000', 'ucp1-h-point');
  hMeans.forEach((m, i) => errorBar(center(i), y, m, hErrors[i], 6.5, 'ucp1-h-error'));
  yAxis(775, y, hTicks, hTickLabels, 336, 491.7, 'y-axis-h', {gap: 7});
  xAxis(491.7, 775, 852.7, [center(0), center(1)], pairLabels, 507.3, 'x-axis-h', {spread: [-1, 1.2]});
})();

/* ---------- panel i ---------- */
enter('panel-i');
(function () {
  const lo = linear(0, 0.004, 491.7, 420);
  const hi = linear(0.08, 0.14, 404, 346.7);
  const y = broken(lo, hi, 0.004);
  const center = i => 961.3 + i * 38.4;
  bars(iMeans, ['#fff', '#ff0000'], center, 26, y, 491.7, 'ucp1-i');
  drawRect(942.5, 409.5, 78, 9.7, '#fff', 'none', 0, 'axis-break-gap');
  drawPoints(iControl, y, center(0), 'c', 1.9, '#000', 'ucp1-i-point');
  drawPoints(iInosine, y, center(1), 's', 1.9, '#000', 'ucp1-i-point');
  iMeans.forEach((m, i) => errorBar(center(i), y, m, iErrors[i], 6.5, 'ucp1-i-error'));
  yAxis(941.7, lo, iTicksLow, iTickLabelsLow, 420, 491.7, 'y-axis-i-lower');
  yAxis(941.7, hi, iTicksHigh, iTickLabelsHigh, 336.7, 409.3, 'y-axis-i-upper');
  drawLine(937.7, 409.3, 941.7, 409.3, INK, 1.1, 'y-axis-i-break-tick');
  xAxis(491.7, 941.7, 1019.3, [center(0), center(1)], pairLabels, 507.3, 'x-axis-i', {spread: [-1.3, 1.3]});
})();

/* ---------- panel j ---------- */
enter('panel-j');
(function () {
  const y = linear(0, 1.5, 491.7, 336);
  const center = i => 1117.4 + i * 38.8;
  bars(jMeans, ['#fff', '#ff0000'], center, 26.5, y, 491.7, 'oxygen');
  drawPoints(jControl, y, center(0), 'c', 1.9, '#000', 'oxygen-point');
  drawPoints(jInosine, y, center(1), 's', 1.9, '#000', 'oxygen-point');
  jMeans.forEach((m, i) => errorBar(center(i), y, m, jErrors[i], 6.5, 'oxygen-error'));
  yAxis(1098.3, y, jTicks, jTickLabels, 336, 491.7, 'y-axis-j');
  xAxis(491.7, 1098.3, 1175.7, [center(0), center(1)], pairLabels, 507.3, 'x-axis-j', {spread: [0, 2]});
})();

/* ---------- panel k ---------- */
enter('panel-k');
(function () {
  const y = linear(0, 2, 721, 564.3);
  const center = i => 81.2 + i * 39.1;
  bars(kMeans, ['#fff', '#ff0000'], center, 26.2, y, 721, 'glycerol');
  drawPoints(kControl, y, center(0), 'c', 1.7, '#000', 'glycerol-point', 7);
  drawPoints(kInosine, y, center(1), 's', 1.7, '#000', 'glycerol-point', 7);
  kMeans.forEach((m, i) => errorBar(center(i), y, m, kErrors[i], 6, 'glycerol-error'));
  yAxis(62, y, kTicks, kTickLabels, 564.3, 721, 'y-axis-k');
  xAxis(721, 58, 140, [center(0), center(1)], pairLabels, 736.7, 'x-axis-k', {spread: [-1, 1]});
})();

/* ---------- panel l ---------- */
enter('panel-l');
(function () {
  const x = linear(30, 60, 282.7, 354.3);
  const y = linear(0, 100, 720.7, 601);
  yAxis(216.7, y, lTicksY, lTicksY.map(String), 576.7, 720.7, 'y-axis-l');
  xAxis(720.7, 216.7, 361.7, lTicksX.map(x), lTicksX.map(String), 735.7, 'x-axis-l');
  series(lTime, lVehicle, lVehicleErr, x, y, '#000', 'c', 2.6, 'vehicle-l');
  series(lTime, lInosine, lInosineErr, x, y, '#f00000', 's', 2.6, 'inosine-l');
  legendSample(221.7, 236, 584.3, '#000', 'c', 2.6, 'vehicle-l');
  legendSample(221.7, 236, 598.3, '#f00000', 's', 2.6, 'inosine-l');
})();

/* ---------- panel m ---------- */
enter('panel-m');
(function () {
  const x = linear(0, 4, 784, 929);
  const y = linear(20, 30, 697.7, 580.7);
  yAxis(754, y, mTicksY, mTicksY.map(String), 580.7, 697.7, 'y-axis-m');
  xAxis(711, 765.7, 947.7, mWeeks.map(x), mWeeks.map(String), 726.7, 'x-axis-m');
  series(mWeeks, mVehicle, mVehicleErr, x, y, '#000', 'c', 2.5, 'vehicle-m');
  series(mWeeks, mInosine, mInosineErr, x, y, '#f00000', 's', 2.5, 'inosine-m');
  legendSample(759.3, 772.7, 584.3, '#000', 'c', 2.5, 'vehicle-m');
  legendSample(759.3, 772.7, 598.3, '#f00000', 's', 2.5, 'inosine-m');
})();

/* ---------- panel n ---------- */
enter('panel-n');
(function () {
  const x = linear(25, 35, 1065, 1194.3);
  const y = linear(1500, 3000, 698.3, 580.7);
  yAxis(1015, y, nTicksY, nTickLabelsY, 580.7, 698.3, 'y-axis-n', {gap: 8});
  xAxis(711, 1026, 1195, nTicksX.map(x), nTicksX.map(String), 726.7, 'x-axis-n');
  drawLine(x(nVehicleFit[0][0]), y(nVehicleFit[0][1]), x(nVehicleFit[1][0]), y(nVehicleFit[1][1]), '#000', 1.2, 'vehicle-fit-line');
  drawLine(x(nInosineFit[0][0]), y(nInosineFit[0][1]), x(nInosineFit[1][0]), y(nInosineFit[1][1]), '#f00000', 1.2, 'inosine-fit-line');
  nVehicleWeight.forEach((w, i) => drawMarker('c', x(w), y(nVehicleAuc[i]), 2.3, '#000', 'vehicle-n-point'));
  nInosineWeight.forEach((w, i) => drawMarker('s', x(w), y(nInosineAuc[i]), 2.4, '#f00000', 'inosine-n-point'));
  legendSample(1021.7, 1035, 584.3, '#000', 'c', 2.5, 'vehicle-n');
  legendSample(1021.7, 1035, 598.3, '#f00000', 's', 2.5, 'inosine-n');
})();

/* ---------- panel o ---------- */
enter('panel-o');
(function () {
  const y = linear(3, 7, 941.7, 810.3);
  const center = i => 78.9 + i * 41.6;
  bars(oMeans, ['#fff', '#ff0000'], center, 27.6, y, 952.7, 'auc');
  drawPoints(oVehicle, y, center(0), 'c', 2.7, '#000', 'auc-point');
  drawPoints(oInosine, y, center(1), 's', 2.7, '#000', 'auc-point');
  oMeans.forEach((m, i) => errorBar(center(i), y, m, oErrors[i], 6.5, 'auc-error'));
  yAxis(47.7, y, oTicks, oTicks.map(String), 810.3, 941.7, 'y-axis-o');
  xAxis(952.7, 58.3, 141.7, [center(0), center(1)], vehicleInosine, 967.7, 'x-axis-o', {spread: [0, 1.2]});
})();

/* ---------- panel p ---------- */
enter('panel-p');
(function () {
  const y = linear(0, 150, 952.7, 809.3);
  const center = i => 243.8 + i * 35.9;
  bars(pMeans, ['#fff', '#ff0000'], center, 24.3, y, 952.7, 'ucp1-p');
  drawPoints(pVehicle, y, center(0), 'c', 1.8, '#000', 'ucp1-p-point');
  drawPoints(pInosine, y, center(1), 's', 1.8, '#000', 'ucp1-p-point');
  pMeans.forEach((m, i) => errorBar(center(i), y, m, pErrors[i], 6, 'ucp1-p-error'));
  yAxis(226.7, y, pTicks, pTicks.map(String), 809.3, 952.7, 'y-axis-p');
  xAxis(952.7, 226.7, 298.3, [center(0), center(1)], vehicleInosine, 967.7, 'x-axis-p', {spread: [-2, 3]});
})();

/* ---------- panel q ---------- */
enter('panel-q');
(function () {
  const lo = linear(0, 0.08, 951.7, 886);
  const hi = linear(0.075, 1, 877.3, 830.3);
  const y = broken(lo, hi, 0.08);
  const center = i => 398.3 + i * 35.5;
  bars(qMeans, ['#fff', '#ff0000'], center, 24.5, y, 951.7, 'ucp1-q');
  drawRect(381.5, 877.5, 70, 8, '#fff', 'none', 0, 'axis-break-gap');
  drawPoints(qVehicle, y, center(0), 'c', 1.8, '#000', 'ucp1-q-point');
  drawPoints(qInosine, y, center(1), 's', 1.8, '#000', 'ucp1-q-point');
  errorBar(center(0), lo, qMeans[0], qErrors[0], 6, 'ucp1-q-error');
  errorBar(center(1), hi, qMeans[1], qErrors[1], 6, 'ucp1-q-error');
  yAxis(380.7, lo, qTicksLow, qTickLabelsLow, 886, 951.7, 'y-axis-q-lower');
  yAxis(380.7, hi, qTicksHigh, qTickLabelsHigh, 809.3, 877.3, 'y-axis-q-upper');
  drawLine(376.7, 877.3, 380.7, 877.3, INK, 1.1, 'y-axis-q-break-tick');
  xAxis(951.7, 380.7, 451.7, [center(0), center(1)], vehicleInosine, 967.7, 'x-axis-q', {spread: [-3.3, 1.5]});
})();

/* ---------- panel s ---------- */
enter('panel-s');
(function () {
  const x = linear(0, 30, 831.4, 986.2);
  const y = linear(30, 50, 944.3, 801.3);
  yAxis(831.4, y, sTicksY, sTicksY.map(String), 801.3, 944.3, 'y-axis-s', {len: 4.5, gap: 9});
  xAxis(952.3, 779.5, 987, sTicksX.map(x), sTickLabelsX, 968, 'x-axis-s');
  series(sDays, sVehicle, sVehicleErr, x, y, '#000', 'c', 2.3, 'vehicle-s');
  series(sDays, sInosine, sInosineErr, x, y, '#f01020', 't', 2.4, 'inosine-s');
  legendSample(838.5, 852.6, 920.3, '#000', 'c', 2.3, 'vehicle-s');
  legendSample(838.5, 852.6, 933, '#f01020', 't', 2.5, 'inosine-s');
})();

/* ---------- panel t ---------- */
enter('panel-t');
(function () {
  const y = linear(0, 150, 952, 810.7);
  const center = i => 1069 + i * 35.3;
  tLean.forEach((lean, i) => {
    const cx = center(i);
    const w = 24;
    const topWater = lean + tWater[i];
    const topFat = topWater + tFat[i];
    drawRect(cx - w / 2, y(lean), w, y(0) - y(lean), '#cfcfcf', INK, 1.2, 'lean-mass-segment');
    drawRect(cx - w / 2, y(topWater), w, y(lean) - y(topWater), '#111', INK, 1, 'water-segment');
    drawRect(cx - w / 2, y(topFat), w, y(topWater) - y(topFat), 'url(#stripes)', INK, 1.2, 'fat-segment');
    drawLine(cx, y(topFat), cx, y(topFat + tTopErr[i]), '#222', 1.1, 'fat-error-stem');
    drawLine(cx - 4, y(topFat + tTopErr[i]), cx + 4, y(topFat + tTopErr[i]), '#222', 1.1, 'fat-error-cap');
  });
  yAxis(1045.2, y, tTicks, tTicks.map(String), 810.7, 952, 'y-axis-t', {gap: 7});
  xAxis(952, 1045.2, 1193, tLabels.map((l, i) => center(i)), tLabels, 967.7, 'x-axis-t');
  drawText(1175, 882.5, '**', 'middle', 'significance-t-fat', {size: 13});
  drawText(1175, 925, '**', 'middle', 'significance-t-lean', {size: 13});
})();
</script>
</body>
</html>
